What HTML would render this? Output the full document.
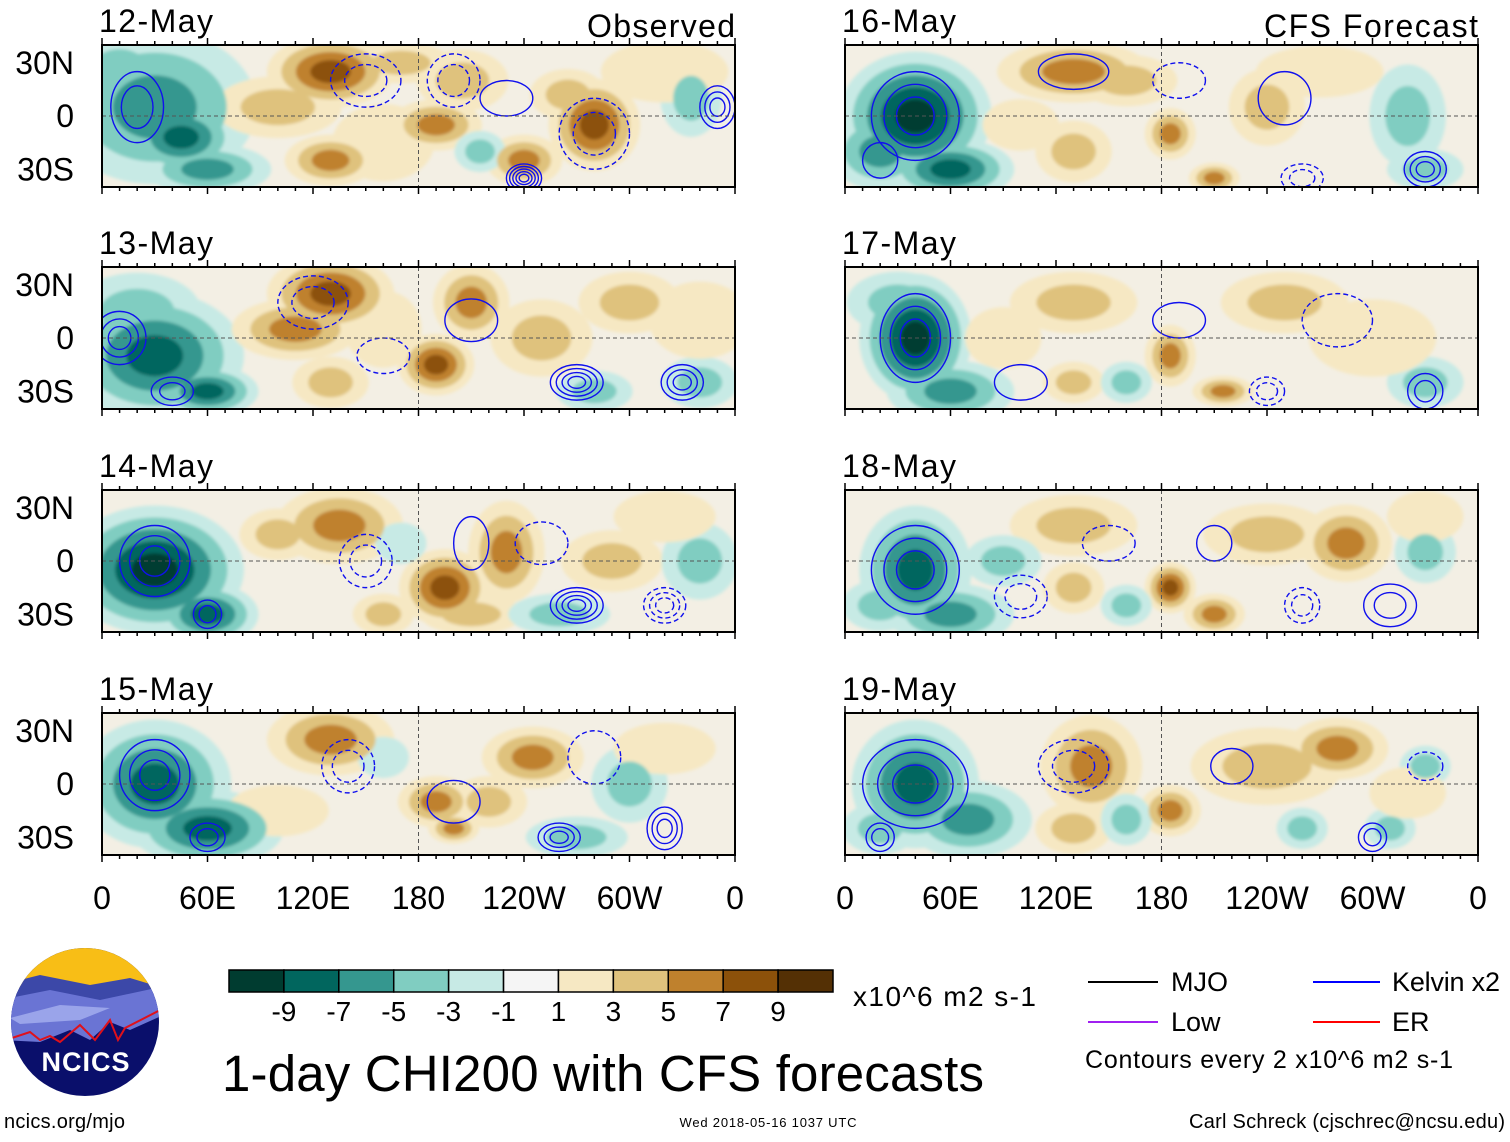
<!DOCTYPE html>
<html><head><meta charset="utf-8">
<style>
html,body{margin:0;padding:0;background:#fff;}
body{width:1510px;height:1137px;position:relative;overflow:hidden;font-family:"Liberation Sans",sans-serif;}
</style></head>
<body>
<svg id="fig" width="1510" height="1137" viewBox="0 0 1510 1137" xmlns="http://www.w3.org/2000/svg" font-family="Liberation Sans, sans-serif">
<defs>
<filter id="soft" x="-20%" y="-20%" width="140%" height="140%"><feGaussianBlur stdDeviation="1.5"/></filter>
<clipPath id="logoclip"><circle cx="85" cy="1022" r="74"/></clipPath>
</defs>
<g id="panels"></g>
<g id="legend"></g>

<g>
<g clip-path="url(#logoclip)">
<rect x="0" y="940" width="170" height="170" fill="#0a0f6b"/>
<rect x="0" y="940" width="170" height="48" fill="#f8be16"/>
<path d="M0 985 L40 975 L90 985 L130 978 L170 990 L170 1010 L0 1015Z" fill="#3c48a8"/>
<path d="M0 1000 L50 990 L100 1000 L170 985 L170 1012 L130 1030 L110 1022 L90 1040 L70 1030 L40 1042 L0 1040Z" fill="#6a74d4"/>
<path d="M10 1018 L60 1005 L110 1008 L80 1020 L20 1024Z" fill="#9aa4ea"/>
<path d="M0 1042 L30 1032 L40 1040 L50 1036 L60 1042 L80 1025 L95 1040 L110 1020 L118 1040 L125 1028 L170 1005" fill="none" stroke="#e0101a" stroke-width="2"/>
</g>
<text x="86" y="1071" text-anchor="middle" font-size="27" font-weight="bold" fill="#fff" letter-spacing="1">NCICS</text>
</g>

<text x="853" y="1006" font-size="28" textLength="183">x10^6 m2 s-1</text>
<text x="222" y="1091" font-size="51" textLength="762">1-day CHI200 with CFS forecasts</text>
<g><line x1="1088" y1="982" x2="1158" y2="982" stroke="#000" stroke-width="2"/><text x="1171" y="991" font-size="27">MJO</text></g>
<g><line x1="1313" y1="982" x2="1380" y2="982" stroke="#0000ff" stroke-width="2"/><text x="1392" y="991" font-size="27" textLength="108">Kelvin x2</text></g>
<g><line x1="1088" y1="1022" x2="1158" y2="1022" stroke="#a020f0" stroke-width="2"/><text x="1171" y="1031" font-size="27">Low</text></g>
<g><line x1="1313" y1="1022" x2="1380" y2="1022" stroke="#ff0000" stroke-width="2"/><text x="1392" y="1031" font-size="27">ER</text></g>
<text x="1085" y="1068" font-size="25" textLength="368">Contours every 2 x10^6 m2 s-1</text>
<text x="4" y="1128" font-size="20" textLength="121">ncics.org/mjo</text>
<text x="768" y="1127" font-size="13" text-anchor="middle" textLength="177">Wed 2018-05-16 1037 UTC</text>
<text x="1505" y="1128" font-size="20" text-anchor="end" textLength="316">Carl Schreck (cjschrec@ncsu.edu)</text>
</svg>
<script>
const NS="http://www.w3.org/2000/svg";
const colors=["#003c30","#01665e","#35978f","#80cdc1","#c7eae5","#f5f5f5","#f6e8c3","#dfc27d","#bf812d","#8c510a","#543005"];
const levelLabels=["-9","-7","-5","-3","-1","1","3","5","7","9"];
const dates=["12-May","13-May","14-May","15-May","16-May","17-May","18-May","19-May"];
const lonTicks=[0,60,120,180,240,300,360];
const lonLabels=["0","60E","120E","180","120W","60W","0"];
const latTicks=[30,0,-30];
const latLabels=["30N","0","30S"];
// blobs per panel: [lon, lat, value, rxDeg, ryDeg]
const blobs0=[[30,5,-6,40,30],[45,-12,-8,22,14],[60,-30,-5,25,10],[10,25,-4,20,15],[130,25,7,25,14],[100,5,4,25,12],[130,-25,5,18,10],[190,-5,5,18,10],[240,-25,6,15,10],[280,-5,7,18,18],[265,12,4,15,10],[205,20,3,18,12],[335,10,-4,12,15],[215,-20,-4,10,8],[170,30,3,20,8],[320,25,2,25,12],[160,-15,2,20,15]];
const blobs1=[[30,-10,-8,35,25],[20,15,-4,25,15],[60,-30,-7,20,10],[130,25,7,25,15],[110,5,5,25,12],[190,-15,7,15,12],[210,20,5,15,15],[250,0,4,20,15],[130,-25,4,15,10],[300,20,3,20,12],[280,-30,-3,15,8],[340,-25,-3,15,10],[340,10,2,20,15],[160,5,2,15,15]];
const blobs2=[[30,-5,-9,35,25],[60,-30,-7,20,12],[135,20,5,25,15],[100,15,4,15,10],[195,-15,8,18,15],[230,5,6,15,20],[210,-30,4,20,8],[160,-30,3,12,8],[290,0,3,20,12],[340,0,-3,15,15],[260,-30,-3,20,8],[170,10,-2,10,8],[320,25,2,20,10]];
const blobs3=[[30,0,-8,30,25],[60,-25,-8,30,15],[130,25,6,25,14],[190,-10,6,15,10],[200,-25,5,10,6],[245,15,6,20,12],[220,-10,3,15,10],[300,0,-4,15,15],[270,-30,-3,20,8],[160,15,-2,10,8],[320,20,2,20,10],[100,-15,2,20,10]];
const blobs4=[[40,0,-9,30,25],[60,-30,-7,25,12],[20,-20,-5,20,15],[130,25,6,30,12],[185,-10,6,10,10],[210,-35,6,10,6],[240,5,4,15,15],[160,20,3,20,10],[130,-20,3,15,12],[320,0,-3,15,20],[330,-30,-4,15,8],[270,25,2,25,10],[100,-5,2,15,10]];
const blobs5=[[40,0,-9,22,25],[60,-30,-6,25,12],[185,-10,6,10,12],[215,-30,6,12,6],[130,20,3,25,12],[250,20,3,25,12],[130,-25,3,12,8],[330,-25,-4,15,10],[160,-25,-3,10,8],[30,20,-3,20,12],[300,0,2,25,15],[90,0,2,15,12]];
const blobs6=[[40,-5,-8,22,25],[60,-30,-5,25,12],[20,-25,-4,15,10],[185,-15,7,10,10],[210,-30,6,12,8],[285,10,6,18,15],[240,15,3,25,12],[130,20,3,25,12],[130,-15,3,12,10],[330,5,-3,12,12],[160,-25,-4,10,8],[90,0,-3,15,10],[330,25,2,15,10]];
const blobs7=[[40,0,-8,25,25],[70,-20,-5,25,15],[20,-25,-4,15,10],[140,10,6,20,20],[185,-15,6,12,10],[280,20,6,20,12],[330,10,-4,10,8],[240,10,3,30,15],[130,-25,3,15,10],[260,-25,-3,10,8],[160,-20,-3,10,10],[310,-25,-3,10,8],[320,-5,2,15,10]];
const panelBlobs=[blobs0,blobs1,blobs2,blobs3,blobs4,blobs5,blobs6,blobs7];
// contours: [lon, lat, rxDeg, ryDeg, dashed(1/0), rings]
const cont0=[[20,5,15,20,0,2],[240,-35,10,8,0,5],[150,20,20,15,1,2],[200,20,15,15,1,2],[280,-10,20,20,1,2],[350,5,10,12,0,3],[230,10,15,10,0,1]];
const cont1=[[10,0,15,15,0,3],[40,-30,12,8,0,2],[120,20,20,15,1,2],[270,-25,15,10,0,4],[330,-25,12,10,0,3],[210,10,15,12,0,1],[160,-10,15,10,1,1]];
const cont2=[[30,0,20,20,0,3],[60,-30,8,8,0,2],[270,-25,15,10,0,4],[320,-25,12,10,1,3],[150,0,15,15,1,2],[210,10,10,15,0,1],[250,10,15,12,1,1]];
const cont3=[[30,5,20,20,0,3],[60,-30,10,8,0,2],[260,-30,12,8,0,3],[320,-25,10,12,0,3],[140,10,15,15,1,2],[200,-10,15,12,0,1],[280,15,15,15,1,1]];
const cont4=[[40,0,25,25,0,3],[20,-25,10,10,0,1],[250,10,15,15,0,1],[330,-30,12,10,0,3],[260,-35,12,8,1,2],[190,20,15,10,1,1],[130,25,20,10,0,1]];
const cont5=[[40,0,20,25,0,3],[240,-30,10,8,1,2],[330,-30,10,10,0,2],[190,10,15,10,0,1],[100,-25,15,10,0,1],[280,10,20,15,1,1]];
const cont6=[[40,-5,25,25,0,3],[100,-20,15,12,1,2],[210,10,10,10,0,1],[310,-25,15,12,0,2],[260,-25,10,10,1,2],[150,10,15,10,1,1]];
const cont7=[[40,0,30,25,0,3],[20,-30,8,8,0,2],[220,10,12,10,0,1],[300,-30,8,8,0,2],[130,10,20,15,1,2],[330,10,10,8,1,1]];
const panelCont=[cont0,cont1,cont2,cont3,cont4,cont5,cont6,cont7];

const colX=[102,845],rowY=[45,267,490,713],PW=633,PH=142;
const GROW=1.45;
function el(tag,attrs,parent){const e=document.createElementNS(NS,tag);for(const k in attrs)e.setAttribute(k,attrs[k]);parent.appendChild(e);return e;}
const root=document.getElementById('panels');
for(let p=0;p<8;p++){
  const col=p<4?0:1,row=p%4;const x0=colX[col],y0=rowY[row];
  const X=lon=>x0+lon/360*PW, Y=lat=>y0+(40-lat)/80*PH;
  const g=el('g',{},root);
  
  
  const cid='clip'+p;
  const cp=el('clipPath',{id:cid},g);el('rect',{x:x0,y:y0,width:PW,height:PH},cp);
  const inner=el('g',{'clip-path':'url(#'+cid+')'},g);
  el('rect',{x:x0,y:y0,width:PW,height:PH,fill:'#f3efe4'},inner);
  const fills=el('g',{filter:'url(#soft)'},inner);
  const rings=[];
  for(const b of panelBlobs[p]){
    const [lon,lat,v,rx,ry]=b;const s=Math.sign(v);const n=Math.max(1,Math.round(Math.abs(v)/2));
    for(let k=1;k<=n;k++){
      const f=1-(k-1)/(n+0.4);
      rings.push({k:k,cx:X(lon),cy:Y(lat),rx:rx*GROW/360*PW*f,ry:ry*GROW/80*PH*f,c:colors[5+s*Math.min(5,k)]});
    }
  }
  rings.sort((a,b)=>a.k-b.k);
  for(const r of rings){
    const e=el('ellipse',{cx:r.cx,cy:r.cy,rx:r.rx,ry:r.ry,fill:r.c},fills);
    
    
  }
  for(const c of panelCont[p]){
    const [lon,lat,rx,ry,d,n]=c;
    for(let k=0;k<n;k++){
      const f=1-k/(n+0.5);
      const e=el('ellipse',{cx:X(lon),cy:Y(lat),rx:rx/360*PW*f,ry:ry/80*PH*f,fill:'none',stroke:'#1010ee','stroke-width':1.4,'stroke-dasharray':d?'5,3':'none'},inner);
      
      
    }
  }
  el('line',{x1:x0,y1:Y(0),x2:x0+PW,y2:Y(0),stroke:'#555','stroke-dasharray':'4,3','stroke-width':1},inner);
  el('line',{x1:X(180),y1:y0,x2:X(180),y2:y0+PH,stroke:'#555','stroke-dasharray':'4,3','stroke-width':1},inner);
  el('rect',{x:x0,y:y0,width:PW,height:PH,fill:'none',stroke:'#000','stroke-width':2},g);
  for(let l=0;l<=360;l+=10){const t=l%60===0?7:4;
    el('line',{x1:X(l),y1:y0,x2:X(l),y2:y0-t,stroke:'#000','stroke-width':1.5},g);
    el('line',{x1:X(l),y1:y0+PH,x2:X(l),y2:y0+PH+t,stroke:'#000','stroke-width':1.5},g);}
  const dt=el('text',{x:x0-3,y:y0-13,'font-size':32,textLength:114},g);dt.textContent=dates[p];
  
  
  if(col===0){latTicks.forEach((lt,i)=>{const t=el('text',{x:74,y:Y(lt)+11,'font-size':32,'text-anchor':'end'},g);t.textContent=latLabels[i];
    
    });}
  if(row===3){lonTicks.forEach((l,i)=>{const t=el('text',{x:X(l),y:909,'font-size':32,'text-anchor':'middle'},g);t.textContent=lonLabels[i];
    
    });}
  if(p===0){const t=el('text',{x:735,y:37,'font-size':32,'text-anchor':'end',textLength:148},g);t.textContent='Observed';
    
    }
  if(p===4){const t=el('text',{x:1478,y:37,'font-size':32,'text-anchor':'end',textLength:214},g);t.textContent='CFS Forecast';
    
    }
}
const lg=document.getElementById('legend');
const bw=(833-229)/11;
colors.forEach((c,i)=>{const r=el('rect',{x:229+i*bw,y:970,width:bw,height:22,fill:c,stroke:'#000','stroke-width':1.5},lg);
  
  });
levelLabels.forEach((s,i)=>{const t=el('text',{x:229+(i+1)*bw,y:1021,'font-size':28,'text-anchor':'middle'},lg);t.textContent=s;
  
  });
</script>
</body></html>
